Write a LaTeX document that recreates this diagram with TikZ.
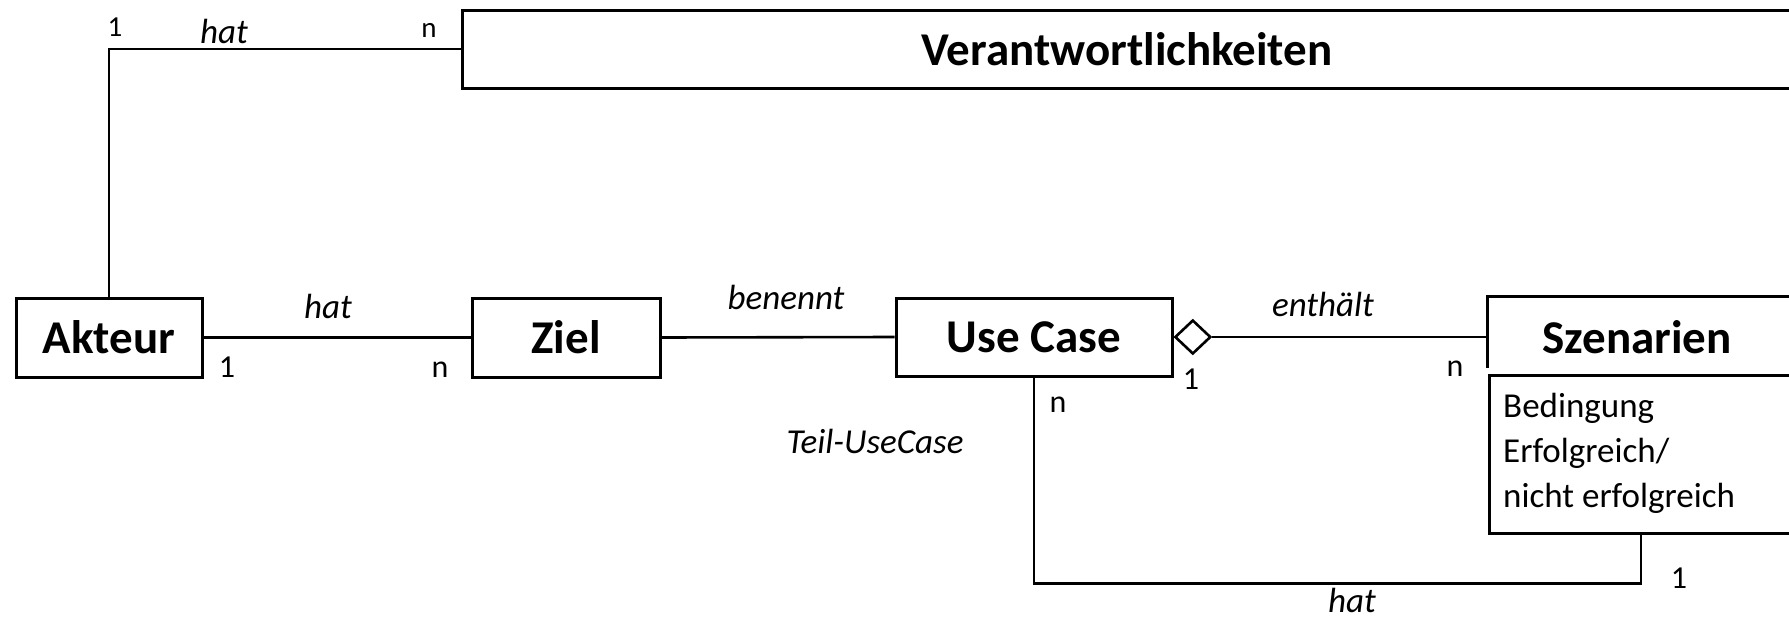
\documentclass[tikz,border=0pt]{standalone}
\usepackage{fontspec}
\setmainfont{Carlito}
\usetikzlibrary{shapes.geometric}

\tikzset{
  entity/.style={draw, line width=3pt, inner sep=0pt,
    font=\fontsize{47pt}{56pt}\selectfont\bfseries},
  conn/.style={line width=2.6pt},
  rel/.style={font=\fontsize{35pt}{42pt}\selectfont\itshape, inner sep=0pt, anchor=base},
  mult/.style={font=\fontsize{32pt}{38pt}\selectfont, inner sep=0pt, anchor=base},
  note/.style={font=\fontsize{35pt}{45pt}\selectfont, inner sep=0pt, anchor=base west},
}

\begin{document}
\begin{tikzpicture}[x=1pt, y=-1pt]
  \useasboundingbox (0,0) rectangle (1789,621);
  \fill[white] (0,0) rectangle (1789,621);
  \clip (0,0) rectangle (1789,621);

  % entities
  \node[entity, minimum width=186pt, minimum height=79pt] (akt) at (109,337.5) {Akteur};
  \node[entity, minimum width=188pt, minimum height=79pt] (ziel) at (566,337.5) {Ziel};
  \node[entity, minimum width=276pt, minimum height=78pt] (uc) at (1034,337) {Use Case};
  \node[entity, minimum width=1330pt, minimum height=78pt] (ver) at (1127,49) {Verantwortlichkeiten};
  \node[entity, draw=none, minimum width=296pt, minimum height=78pt] (szen) at (1637,337) {Szenarien};
  \draw[line width=3pt] ([yshift=-71pt]szen.north west) -- (szen.north west) -- ([xshift=320pt]szen.north west);

  % scenario details
  \node[draw, line width=3pt, minimum width=303pt, minimum height=158pt, inner sep=0pt] (cond) at (1641,454) {};
  \node[note] (c1) at (1503,417) {Bedingung};
  \node[note] (c2) at (1503,462) {Erfolgreich/};
  \node[note] (c3) at (1503,507) {nicht erfolgreich};

  % aggregation diamond
  \node[diamond, draw, fill=white, line width=2.6pt, minimum width=36pt, minimum height=34pt,
        inner sep=0pt, anchor=west] (agg) at (uc.east) {};

  % relations
  \draw[conn] (akt.north) |- (ver.west);
  \draw[conn] (akt.east) -- (ziel.west);
  \draw[conn] (ziel.east) -- (uc.west);
  \draw[conn] (agg.east) -- (agg.east -| szen.west);
  \draw[conn] (uc.south) -- ++(0,206) -| (cond.south);

  % relation names and multiplicities
  \node[mult, font=\fontsize{29pt}{34pt}\selectfont] (m1) at (115,36) {1};
  \node[rel] (r1) at (224,43) {hat};
  \node[mult, font=\fontsize{29pt}{34pt}\selectfont] (m2) at (429,37) {n};
  \node[rel] (r2) at (328,318) {hat};
  \node[mult] (m3) at (227,377) {1};
  \node[mult] (m4) at (440,377) {n};
  \node[rel] (r3) at (786,309) {benennt};
  \node[rel] (r4) at (1323,316) {enthält};
  \node[mult] (m5) at (1191,389) {1};
  \node[mult] (m6) at (1455,376) {n};
  \node[mult] (m7) at (1058,412) {n};
  \node[rel] (r5) at (875,453) {Teil-UseCase};
  \node[mult] (m8) at (1679,588) {1};
  \node[rel] (r6) at (1352,612) {hat};
\end{tikzpicture}
\end{document}
